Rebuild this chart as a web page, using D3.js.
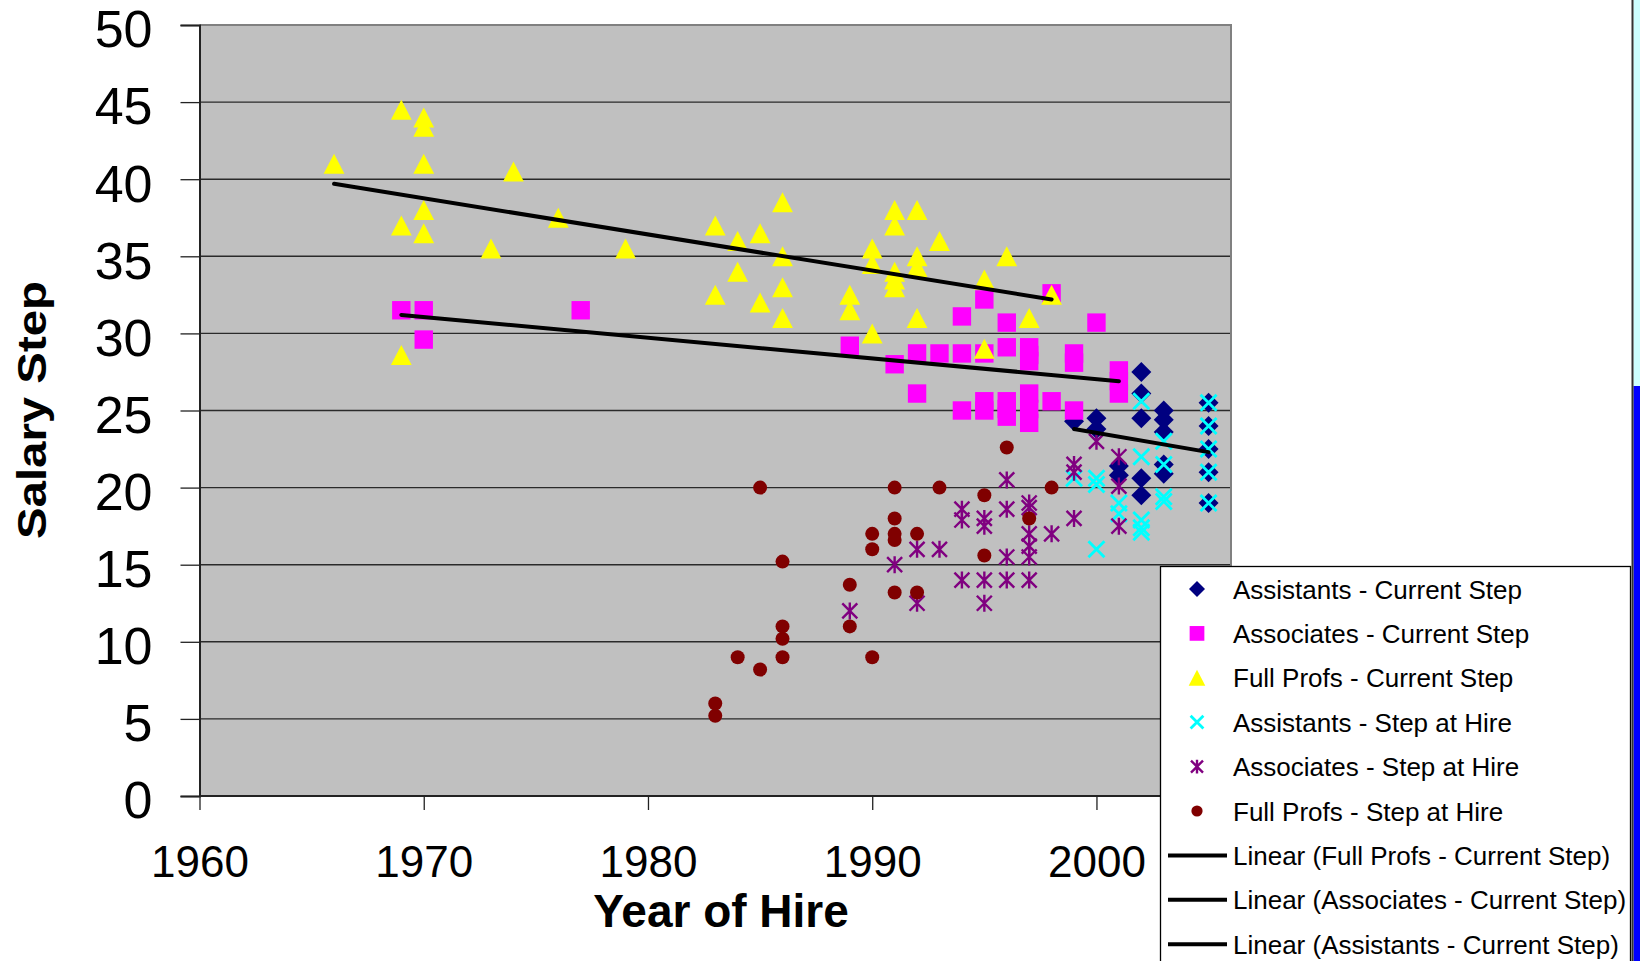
<!DOCTYPE html>
<html><head><meta charset="utf-8">
<script src="https://cdn.jsdelivr.net/npm/d3@7"></script>
<style>
body{margin:0;background:#fff;}
svg{display:block;}
text{font-family:"Liberation Sans",Arial,Helvetica,sans-serif;}
</style>
</head><body>
<svg id="chart" width="1640" height="961"></svg>
<script>
// ---------- DATA ----------
const xTicks = [1960, 1970, 1980, 1990, 2000];
const yTicks = [0, 5, 10, 15, 20, 25, 30, 35, 40, 45, 50];

const asstCurYears = [1999,2000,2000,2001,2001,2002,2002,2002,2002,2002,2003,2003,2003,2003,2003,2005,2005,2005,2005,2005];
const asstCurVals  = [24.3,24.5,23.8,21.4,20.8,27.5,26.1,24.5,20.6,19.5,25,24.4,23.6,21.5,20.9,25.5,24,22.5,21,19];

const assocCurYears = [1969,1970,1970,1977,1989,1991,1992,1992,1993,1994,1994,1994,1995,1995,1995,1995,1996,1996,1996,1996,1996,1997,1997,1997,1997,1997,1997,1998,1998,1999,1999,1999,2000,2001,2001,2001];
const assocCurVals  = [31.5,31.5,29.6,31.5,29.2,28,28.7,26.1,28.7,31.1,28.7,25,32.2,28.7,25.6,25,30.7,29.1,25.6,25.1,24.6,29.1,28.6,28.2,26.1,25.1,24.2,32.6,25.6,28.7,28.1,25,30.7,27.6,26.9,26.1];

const fullCurYears = [1966,1969,1969,1969,1970,1970,1970,1970,1970,1973,1974,1976,1979,1983,1983,1984,1984,1985,1985,1986,1986,1986,1986,1989,1989,1990,1990,1990,1991,1991,1991,1991,1991,1992,1992,1992,1992,1993,1995,1995,1996,1997,1998];
const fullCurVals  = [41,44.5,37,28.6,44,43.4,41,38,36.5,35.5,40.5,37.5,35.5,37,32.5,36,34,36.5,32,38.5,35,33,31,32.5,31.5,35.5,34.5,30,38,37,34,33.5,33,38,35,34.3,31,36,33.5,29,35,31,32.5];

const asstHireYears = [1999,2000,2000,2000,2001,2001,2002,2002,2002,2002,2002,2003,2003,2003,2003,2005,2005,2005,2005,2005];
const asstHireVals  = [20.6,20.6,20.2,16,19,18.3,25.6,22,17.9,17.4,17.1,23,21.5,19.4,19.1,25.5,24,22.5,21,19];

const assocHireYears = [1989,1991,1992,1992,1993,1994,1994,1994,1995,1995,1995,1995,1996,1996,1996,1996,1997,1997,1997,1997,1997,1997,1998,1999,1999,1999,2000,2001,2001,2001];
const assocHireVals  = [12,15,16,12.5,16,18.6,17.9,14,18,17.5,14,12.5,20.5,18.6,15.5,14,19,18.7,17,16.2,15.5,14,17,21.5,21,18,23,22,20.1,17.5];

const fullHireYears = [1983,1983,1984,1985,1985,1986,1986,1986,1986,1989,1989,1990,1990,1990,1991,1991,1991,1991,1991,1992,1992,1993,1995,1995,1996,1997,1998];
const fullHireVals  = [6,5.2,9,20,8.2,15.2,11,10.2,9,13.7,11,17,16,9,20,18,17,16.6,13.2,17,13.2,20,19.5,15.6,22.6,18,20];

// linear trend lines: start/end year and value
const trendStartYears = [1966, 1969, 1999];
const trendEndYears   = [1998, 2001, 2005];
const trendStartVals  = [39.7, 31.2, 23.8];
const trendEndVals    = [32.2, 26.9, 22.3];

const legendLabels = [
  "Assistants - Current Step",
  "Associates - Current Step",
  "Full Profs - Current Step",
  "Assistants - Step at Hire",
  "Associates - Step at Hire",
  "Full Profs - Step at Hire",
  "Linear (Full Profs - Current Step)",
  "Linear (Associates - Current Step)",
  "Linear (Assistants - Current Step)"
];

// ---------- DRAW ----------
const svg = d3.select("#chart");
const x = d3.scaleLinear().domain([1960, 2006]).range([199.5, 1231]);
const y = d3.scaleLinear().domain([0, 50]).range([796, 25]);

// plot background
svg.append("rect").attr("x", x(1960)).attr("y", y(50))
  .attr("width", x(2006) - x(1960)).attr("height", y(0) - y(50))
  .attr("fill", "#c0c0c0");

// gridlines
svg.append("g").selectAll("line").data(yTicks.filter(d => d > 0 && d < 50)).join("line")
  .attr("x1", x(1960)).attr("x2", x(2006))
  .attr("y1", d => y(d)).attr("y2", d => y(d))
  .attr("stroke", "#2a2a2a").attr("stroke-width", 1.4);

// plot border (top/right)
svg.append("path")
  .attr("d", `M${x(1960)},${y(50)}H${x(2006)}V${y(0)}`)
  .attr("fill", "none").attr("stroke", "#808080").attr("stroke-width", 2);

// axes
const yAxis = d3.axisLeft(y).tickValues(yTicks).tickSize(19).tickPadding(28).tickFormat(d3.format("d"));
const gy = svg.append("g").attr("transform", `translate(${x(1960)},0)`).call(yAxis);
gy.select(".domain").attr("stroke", "#222").attr("stroke-width", 2);
gy.selectAll(".tick line").attr("stroke", "#222").attr("stroke-width", 1.3);
gy.selectAll(".tick text").attr("font-size", 52).attr("fill", "#000")
  .attr("font-family", '"Liberation Sans",Arial,sans-serif').attr("dy", "0.42em");

const xAxis = d3.axisBottom(x).tickValues(xTicks).tickSize(14).tickPadding(36).tickFormat(d3.format("d"));
const gx = svg.append("g").attr("transform", `translate(0,${y(0)})`).call(xAxis);
gx.select(".domain").attr("stroke", "#222").attr("stroke-width", 2).attr("d", `M${x(1960)},0H${x(2006)}`);
gx.selectAll(".tick line").attr("stroke", "#222").attr("stroke-width", 1.3);
gx.selectAll(".tick text").attr("font-size", 44).attr("fill", "#000")
  .attr("font-family", '"Liberation Sans",Arial,sans-serif').attr("dy", "0.71em");

// axis titles
svg.append("text").attr("x", 721).attr("y", 927).attr("text-anchor", "middle")
  .attr("font-size", 46).attr("font-weight", "bold").text("Year of Hire");
svg.append("text").attr("transform", "translate(46,410) rotate(-90)").attr("text-anchor", "middle")
  .attr("font-size", 41).attr("font-weight", "bold")
  .attr("textLength", 258).attr("lengthAdjust", "spacingAndGlyphs").text("Salary Step");

// markers
const markerDefs = [
  {type: "diamond", fill: "#000080"},
  {type: "square", fill: "#ff00ff"},
  {type: "triangle", fill: "#ffff00"},
  {type: "x", stroke: "#00ffff"},
  {type: "star", stroke: "#800080"},
  {type: "circle", fill: "#800000"}
];
function drawMarker(g, type, def, s) {
  if (type === "diamond") g.append("path").attr("d", `M0,${-10*s}L${10*s},0L0,${10*s}L${-10*s},0Z`).attr("fill", def.fill);
  else if (type === "square") g.append("rect").attr("x", -9.2*s).attr("y", -9.2*s).attr("width", 18.4*s).attr("height", 18.4*s).attr("fill", def.fill);
  else if (type === "triangle") g.append("path").attr("d", `M0,${-10*s}L${10.4*s},${10*s}L${-10.4*s},${10*s}Z`).attr("fill", def.fill);
  else if (type === "x") g.append("path").attr("d", `M${-8*s},${-8*s}L${8*s},${8*s}M${-8*s},${8*s}L${8*s},${-8*s}`).attr("stroke", def.stroke).attr("stroke-width", 2.8).attr("fill", "none");
  else if (type === "star") g.append("path").attr("d", `M${-7.5*s},${-7.5*s}L${7.5*s},${7.5*s}M${-7.5*s},${7.5*s}L${7.5*s},${-7.5*s}M0,${-8.5*s}L0,${8.5*s}`).attr("stroke", def.stroke).attr("stroke-width", 2.4).attr("fill", "none");
  else if (type === "circle") g.append("circle").attr("r", 7*s).attr("fill", def.fill);
}

const seriesYears = [asstCurYears, assocCurYears, fullCurYears, asstHireYears, assocHireYears, fullHireYears];
const seriesVals  = [asstCurVals, assocCurVals, fullCurVals, asstHireVals, assocHireVals, fullHireVals];

seriesYears.forEach((yrs, si) => {
  const pts = yrs.map((yr, i) => ({yr, v: seriesVals[si][i]}));
  const g = svg.append("g");
  g.selectAll("g").data(pts).join("g")
    .attr("transform", d => `translate(${x(d.yr)},${y(d.v)})`)
    .each(function() { drawMarker(d3.select(this), markerDefs[si].type, markerDefs[si], 1); });
});

// trend lines
const line = d3.line().x(d => x(d[0])).y(d => y(d[1]));
trendStartYears.forEach((sy, i) => {
  svg.append("path")
    .attr("d", line([[sy, trendStartVals[i]], [trendEndYears[i], trendEndVals[i]]]))
    .attr("stroke", "#000").attr("stroke-width", 4).attr("stroke-linecap", "round").attr("fill", "none");
});

// right frame strip
svg.append("rect").attr("x", 1633.5).attr("y", 0).attr("width", 7).attr("height", 386).attr("fill", "#ccffff");
svg.append("rect").attr("x", 1633.5).attr("y", 386).attr("width", 7).attr("height", 575).attr("fill", "#0000ff");
svg.append("line").attr("x1", 1632.5).attr("x2", 1632.5).attr("y1", 0).attr("y2", 961)
  .attr("stroke", "#333").attr("stroke-width", 2);

// legend
const lg = svg.append("g");
lg.append("rect").attr("x", 1160.5).attr("y", 566.5).attr("width", 470).attr("height", 420)
  .attr("fill", "#fff").attr("stroke", "#000").attr("stroke-width", 1.3);
const rowY = i => 589 + i * 44.4;
legendLabels.forEach((lab, i) => {
  const cy = rowY(i);
  if (i < 6) {
    const g = lg.append("g").attr("transform", `translate(1197,${cy})`);
    drawMarker(g, markerDefs[i].type, markerDefs[i], 0.8);
  } else {
    lg.append("line").attr("x1", 1168).attr("x2", 1227).attr("y1", cy).attr("y2", cy)
      .attr("stroke", "#000").attr("stroke-width", 4);
  }
  lg.append("text").attr("x", 1233).attr("y", cy + 9.5).attr("font-size", 26).attr("fill", "#000").text(lab);
});
</script>
</body></html>
